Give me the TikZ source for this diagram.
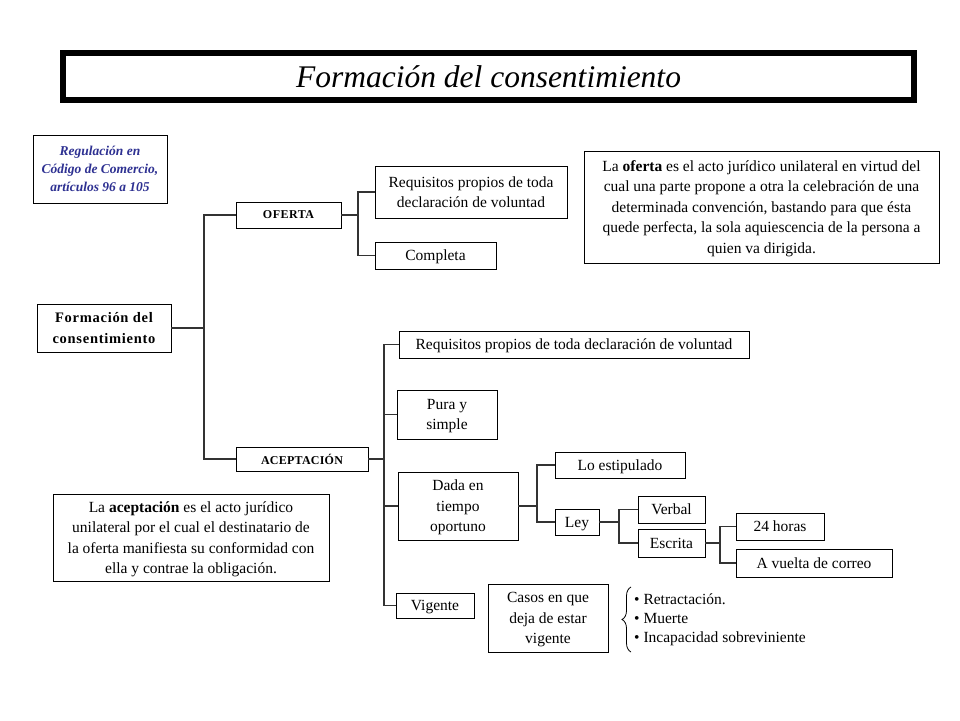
\documentclass[tikz,border=0pt]{standalone}
\usepackage{fontspec}
\setmainfont{Liberation Serif}
\usetikzlibrary{decorations.pathreplacing}
\definecolor{regblue}{HTML}{2E3192}
\begin{document}
\begin{tikzpicture}[x=1pt,y=-1pt,
  bx/.style={draw=black,line width=0.9pt,fill=white,align=center,inner sep=0pt,
    text depth=0pt,
    font=\fontsize{15.5}{20.5}\selectfont},
  lk/.style={draw=black!80,line width=1.3pt}]
\useasboundingbox (0,0) rectangle (960,720);
% title
\node[draw=black,line width=6pt,minimum width=851,minimum height=47,inner sep=0pt,text depth=0pt,
  font=\fontsize{31.5}{36}\selectfont\itshape] (title) at (488.5,76.5) {Formación del consentimiento};
% left boxes
\node[bx,minimum width=134,minimum height=68,text=regblue,
  font=\fontsize{13.5}{18}\selectfont\bfseries\itshape] (reg) at (100,169)
  {Regulación en\\Código de Comercio,\\artículos 96 a 105};
\node[bx,minimum width=134,minimum height=48,
  font=\fontsize{14.5}{21}\selectfont\bfseries\addfontfeature{LetterSpace=5}] (form) at (104,328)
  {Formación del\\consentimiento};
\node[bx,minimum width=105,minimum height=26,
  font=\fontsize{12}{13}\selectfont\bfseries\addfontfeature{LetterSpace=4}] (oferta) at (288.5,215) {OFERTA};
\node[bx,minimum width=132,minimum height=24,
  font=\fontsize{12}{13}\selectfont\bfseries\addfontfeature{LetterSpace=2}] (acept) at (302,459) {ACEPTACIÓN};
% oferta branch
\node[bx,minimum width=192,minimum height=52] (req1) at (471,192) {Requisitos propios de toda\\declaración de voluntad};
\node[bx,minimum width=121,minimum height=27] (compl) at (435.5,255.5) {Completa};
\node[bx,minimum width=355,minimum height=112] (ofdef) at (761.5,207)
  {La \textbf{oferta} es el acto jurídico unilateral en virtud del\\
   cual una parte propone a otra la celebración de una\\
   determinada convención, bastando para que ésta\\
   quede perfecta, la sola aquiescencia de la persona a\\
   quien va dirigida.};
% aceptacion branch
\node[bx,minimum width=350,minimum height=27] (req2) at (574,344.5) {Requisitos propios de toda declaración de voluntad};
\node[bx,minimum width=100,minimum height=49] (pura) at (447,414.5) {Pura y\\simple};
\node[bx,minimum width=120,minimum height=68] (dada) at (458,506) {Dada en\\tiempo\\oportuno};
\node[bx,minimum width=78,minimum height=25] (vig) at (435,605.5) {Vigente};
\node[bx,minimum width=130,minimum height=26] (lo) at (620,465) {Lo estipulado};
\node[bx,minimum width=44,minimum height=26] (ley) at (577,522) {Ley};
\node[bx,minimum width=67,minimum height=27] (verbal) at (671.5,509.5) {Verbal};
\node[bx,minimum width=67,minimum height=28] (escrita) at (671.5,543) {Escrita};
\node[bx,minimum width=88,minimum height=27] (h24) at (780,526.5) {24 horas};
\node[bx,minimum width=156,minimum height=28] (vuelta) at (814,563) {A vuelta de correo};
\node[bx,minimum width=120,minimum height=68] (casos) at (548,618) {Casos en que\\deja de estar\\vigente};
\node[align=left,inner sep=0pt,anchor=west,font=\fontsize{15.5}{19}\selectfont] (bul) at (634,620)
  {\textbullet\ Retractación.\\\textbullet\ Muerte\\\textbullet\ Incapacidad sobreviniente};
\node[bx,minimum width=276,minimum height=87] (acdef) at (191,537.5)
  {La \textbf{aceptación} es el acto jurídico\\
   unilateral por el cual el destinatario de\\
   la oferta manifiesta su conformidad con\\
   ella y contrae la obligación.};
% brace
\coordinate (bt) at (631,587);
\coordinate (bb) at (631,652);
\draw[line width=0.8pt,decorate,decoration={brace,amplitude=9pt}] (bb) -- (bt);
% connectors
\coordinate (tA) at (204,0);
\coordinate (tB) at (358,0);
\coordinate (tC) at (384,0);
\coordinate (tD) at (537,0);
\coordinate (tE) at (619,0);
\coordinate (tF) at (720,0);
\draw[lk] (form.east) -- (form.east -| tA);
\draw[lk] (oferta.west) -- (oferta.west -| tA) -- (acept.west -| tA) -- (acept.west);
\draw[lk] (oferta.east) -- (oferta.east -| tB);
\draw[lk] (req1.west) -- (req1.west -| tB) -- (compl.west -| tB) -- (compl.west);
\draw[lk] (acept.east) -- (acept.east -| tC);
\draw[lk] (req2.west) -- (req2.west -| tC) -- (vig.west -| tC) -- (vig.west);
\draw[lk] (pura.west) -- (pura.west -| tC);
\draw[lk] (dada.west) -- (dada.west -| tC);
\draw[lk] (dada.east) -- (dada.east -| tD);
\draw[lk] (lo.west) -- (lo.west -| tD) -- (ley.west -| tD) -- (ley.west);
\draw[lk] (ley.east) -- (ley.east -| tE);
\draw[lk] (verbal.west) -- (verbal.west -| tE) -- (escrita.west -| tE) -- (escrita.west);
\draw[lk] (escrita.east) -- (escrita.east -| tF);
\draw[lk] (h24.west) -- (h24.west -| tF) -- (vuelta.west -| tF) -- (vuelta.west);
\end{tikzpicture}
\end{document}
